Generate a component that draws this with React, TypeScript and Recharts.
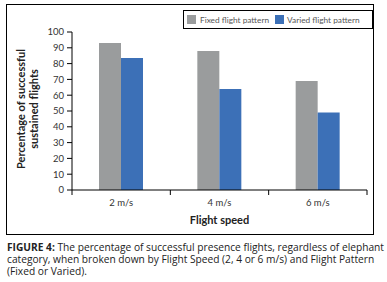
import React from 'react';
import { BarChart, Bar, XAxis, YAxis } from 'recharts';

const categories = ['2 m/s', '4 m/s', '6 m/s'];
const fixedValues = [93, 88, 69];
const variedValues = [83.5, 64, 49];
const yTicks = [0, 10, 20, 30, 40, 50, 60, 70, 80, 90, 100];
const seriesNames = ['Fixed flight pattern', 'Varied flight pattern'];

const data = categories.map((c, i) => ({ name: c, fixed: fixedValues[i], varied: variedValues[i] }));

const GREY = '#9a9c9d';
const BLUE = '#3c70b7';
const FONT = 'Lato, "Open Sans", sans-serif';

const XTick = (props: any) => {
  const { x, y, payload, index, width, visibleTicksCount } = props;
  const count = visibleTicksCount || 3;
  const half = width / count / 2;
  const axisY = y - 14;
  return (
    <g>
      <line x1={x - half} y1={axisY} x2={x - half} y2={axisY + 5} stroke="#000" />
      {index === count - 1 && <line x1={x + half} y1={axisY} x2={x + half} y2={axisY + 5} stroke="#000" />}
      <text x={x} y={axisY + 16} textAnchor="middle" fontFamily={FONT} fontSize={9.5} fill="#333">
        {payload.value}
      </text>
    </g>
  );
};

const YLabel = (props: any) => {
  const vb = props.viewBox || {};
  const cy = vb.y + vb.height / 2 - 2;
  return (
    <g>
      <text transform={`translate(13, ${cy}) rotate(-90)`} textAnchor="middle" dominantBaseline="central" fontFamily={FONT} fontWeight="bold" fontSize={11} fill="#222">
        Percentage of successful
      </text>
      <text transform={`translate(26, ${cy}) rotate(-90)`} textAnchor="middle" dominantBaseline="central" fontFamily={FONT} fontWeight="bold" fontSize={11} fill="#222">
        sustained flights
      </text>
    </g>
  );
};

const captionLine = { height: 12, lineHeight: '12px', overflow: 'visible' as const };

export default function App() {
  return (
    <div style={{ position: 'absolute', left: 0, top: 0, width: 387, height: 282, background: '#fff' }}>
      <div style={{ position: 'absolute', left: 6, top: 4, width: 366, height: 229, border: '1px solid #000' }}>
        <BarChart width={366} height={229} data={data} margin={{ top: 27, right: 6, left: 0, bottom: 0 }} barCategoryGap={27} barGap={0}>
          <XAxis
            dataKey="name"
            height={44}
            axisLine={{ stroke: '#000' }}
            tickLine={false}
            tickMargin={8}
            interval={0}
            tick={<XTick />}
            label={{ value: 'Flight speed', position: 'insideBottom', offset: 10, style: { fontFamily: FONT, fontWeight: 'bold', fontSize: 11, fill: '#222' } }}
          />
          <YAxis
            width={65}
            domain={[0, 100]}
            ticks={yTicks}
            interval={0}
            tickSize={5}
            tickMargin={3}
            axisLine={{ stroke: '#000' }}
            tickLine={{ stroke: '#000' }}
            tick={{ fontFamily: FONT, fontSize: 9.5, fill: '#333' }}
            label={<YLabel />}
          />
          <Bar dataKey="fixed" name={seriesNames[0]} fill={GREY} isAnimationActive={false} />
          <Bar dataKey="varied" name={seriesNames[1]} fill={BLUE} isAnimationActive={false} />
        </BarChart>
      </div>
      <div
        style={{
          position: 'absolute',
          left: 183,
          top: 10,
          width: 185,
          height: 17,
          border: '1px solid #000',
          display: 'flex',
          alignItems: 'center',
          paddingLeft: 3,
          boxSizing: 'content-box',
          fontFamily: FONT,
          fontSize: 8.3,
          color: '#555',
          background: '#fff',
          whiteSpace: 'nowrap',
        }}
      >
        <span style={{ width: 9, height: 9, background: GREY, display: 'inline-block', marginRight: 4 }} />
        <span style={{ marginRight: 6 }}>{seriesNames[0]}</span>
        <span style={{ width: 9, height: 9, background: BLUE, display: 'inline-block', marginRight: 3 }} />
        <span>{seriesNames[1]}</span>
      </div>
      <div
        style={{
          position: 'absolute',
          left: 7,
          top: 241,
          width: 378,
          fontFamily: '"Open Sans", sans-serif',
          fontSize: 10.2,
          color: '#222',
          whiteSpace: 'nowrap',
        }}
      >
        <div style={captionLine}>
          <b>FIGURE 4:</b> The percentage of successful presence flights, regardless of elephant
        </div>
        <div style={captionLine}>category, when broken down by Flight Speed (2, 4 or 6 m/s) and Flight Pattern</div>
        <div style={captionLine}>(Fixed or Varied).</div>
      </div>
    </div>
  );
}
